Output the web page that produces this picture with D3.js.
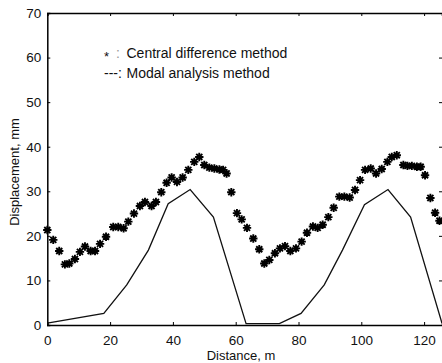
<!DOCTYPE html>
<html>
<head>
<meta charset="utf-8">
<script src="https://cdn.jsdelivr.net/npm/d3@7"></script>
<style>
  body { margin: 0; background: #fff; }
  text { font-family: "Liberation Sans", Arial, sans-serif; fill: #111; }
</style>
</head>
<body>
<script>
// central difference method (asterisks)
var cdDist = [0, 1.9, 3.8, 5.6, 7.0, 8.8, 10.4, 12.0, 13.8, 15.2, 16.8, 18.7, 21.0, 22.6, 24.3, 25.8,
    27.6, 29.5, 31.1, 33.2, 34.6, 36.3, 38.0, 39.6, 41.3, 43.1, 44.9, 46.8, 48.4, 50.0, 51.6, 53.2,
    54.8, 56.0, 57.1, 58.6, 60.4, 61.9, 63.6, 65.6, 67.5, 69.1, 70.7, 72.5, 74.1, 75.7, 77.4, 79.2,
    81.0, 82.7, 84.6, 86.1, 87.7, 89.5, 91.2, 93.0, 94.6, 96.3, 98.0, 99.6, 101.2, 103.0, 104.7, 106.5,
    108.3, 109.7, 111.3, 113.4, 114.7, 116.1, 117.7, 118.9, 120.3, 122.0, 123.5, 124.9];
var cdDisp = [21.3, 19.1, 16.6, 13.6, 13.8, 14.8, 16.4, 17.6, 16.6, 16.6, 18.2, 19.8, 22.0, 22.0, 21.7, 23.2,
    25.0, 26.7, 27.6, 26.7, 27.6, 29.8, 31.9, 33.1, 32.1, 33.1, 34.8, 36.6, 37.7, 35.9, 35.3, 35.1,
    34.9, 34.8, 34.0, 29.8, 25.1, 23.7, 21.8, 19.4, 17.0, 13.8, 14.6, 16.1, 17.2, 17.7, 16.6, 17.2,
    18.7, 20.7, 22.1, 21.8, 22.5, 24.2, 26.3, 28.8, 28.8, 28.6, 30.3, 32.5, 34.8, 35.1, 34.0, 35.0,
    36.6, 37.7, 38.1, 35.9, 35.7, 35.7, 35.5, 35.5, 33.6, 28.5, 25.2, 23.4];

// modal analysis method (line)
var maDist = [0, 18, 25.3, 32.2, 38.5, 45.5, 52.9, 63.3, 73.9, 80.8, 88.2, 94, 101, 108.5, 115.7, 125.7];
var maDisp = [0.4, 2.6, 9.0, 16.8, 27.2, 30.4, 24.2, 0.3, 0.3, 2.6, 9.0, 16.8, 27.0, 30.4, 24.2, 0.4];

var xTicks = [0, 20, 40, 60, 80, 100, 120];
var yTicks = [0, 10, 20, 30, 40, 50, 60, 70];

var W = 442, H = 363;
var margin = {top: 13, right: 0, bottom: 38, left: 47.3};

var x = d3.scaleLinear().domain([0, 125.7]).range([margin.left, 442]);
var y = d3.scaleLinear().domain([0, 70]).range([H - margin.bottom, margin.top]);

var svg = d3.select("body").append("svg")
    .attr("width", W)
    .attr("height", H);

// axes, MATLAB style: ticks inside on all four sides
svg.append("g")
    .attr("transform", "translate(0," + y(0) + ")")
    .call(d3.axisBottom(x).tickValues(xTicks).tickSize(-3).tickPadding(10))
    .call(g => g.select(".domain").attr("stroke-width", 1.5));
svg.append("g")
    .attr("transform", "translate(0," + y(70) + ")")
    .call(d3.axisTop(x).tickValues(xTicks).tickSize(-3).tickFormat(""))
    .call(g => g.select(".domain").attr("stroke-width", 1.5));
svg.append("g")
    .attr("transform", "translate(" + x(0) + ",0)")
    .call(d3.axisLeft(y).tickValues(yTicks).tickSize(-3).tickPadding(6))
    .call(g => g.select(".domain").attr("stroke-width", 1.5));
svg.append("g")
    .attr("transform", "translate(" + x(125.7) + ",0)")
    .call(d3.axisRight(y).tickValues(yTicks).tickSize(-3).tickFormat(""));

svg.selectAll(".tick text")
    .style("font-size", "13.5px")
    .attr("font-family", null);

// modal analysis line
var line = d3.line()
    .x(d => x(d[0]))
    .y(d => y(d[1]));
svg.append("path")
    .datum(d3.zip(maDist, maDisp))
    .attr("fill", "none")
    .attr("stroke", "#111")
    .attr("stroke-width", 1.3)
    .attr("d", line);

// asterisk markers
var r = 4.2, q = r * 0.72;
var star = "M" + (-r) + ",0H" + r + "M0," + (-r) + "V" + r +
    "M" + (-q) + "," + (-q) + "L" + q + "," + q + "M" + (-q) + "," + q + "L" + q + "," + (-q);
svg.append("g")
    .selectAll("path")
    .data(d3.zip(cdDist, cdDisp))
    .join("path")
    .attr("transform", d => "translate(" + x(d[0]) + "," + y(d[1]) + ")")
    .attr("d", star)
    .attr("stroke", "#000")
    .attr("stroke-width", 1.9)
    .attr("fill", "none");

// legend
var leg = svg.append("g").style("font-size", "14px");
leg.append("text").attr("x", 104).attr("y", 61).style("font-size", "13px").text("*");
leg.append("text").attr("x", 116).attr("y", 58).style("fill", "#999").text(":");
leg.append("text").attr("x", 126.5).attr("y", 58).text("Central difference method");
leg.append("text").attr("x", 104).attr("y", 78).text("---:");
leg.append("text").attr("x", 126.5).attr("y", 78).text("Modal analysis method");

// axis titles
svg.append("text")
    .attr("x", 241)
    .attr("y", 360)
    .attr("text-anchor", "middle")
    .style("font-size", "13px")
    .text("Distance, m");
svg.append("text")
    .attr("transform", "translate(19," + 172 + ") rotate(-90)")
    .attr("text-anchor", "middle")
    .style("font-size", "13px")
    .text("Displacement, mm");
</script>
</body>
</html>
